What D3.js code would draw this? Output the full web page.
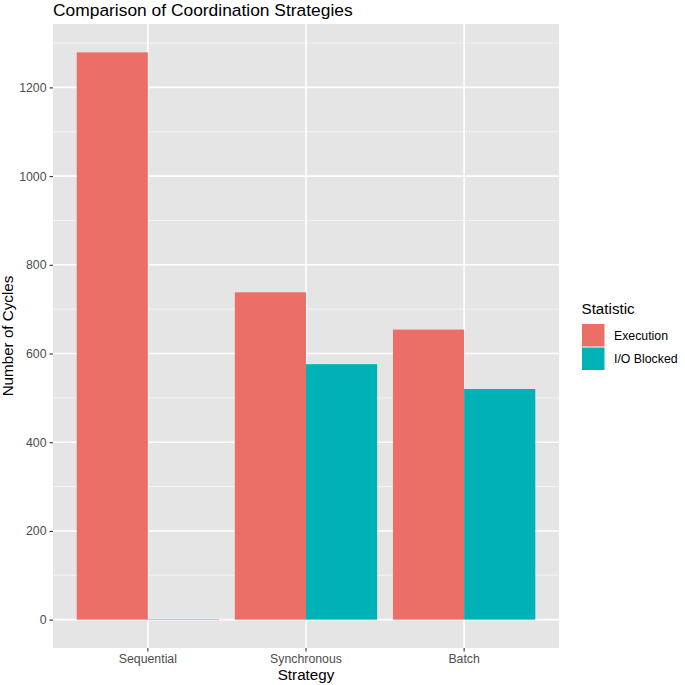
<!DOCTYPE html>
<html>
<head>
<meta charset="utf-8">
<script src="https://cdn.jsdelivr.net/npm/d3@7"></script>
<style>
  body { margin: 0; background: #fff; }
  svg { display: block; }
  text { font-family: "Liberation Sans", Arial, sans-serif; }
</style>
</head>
<body>
<svg id="chart" width="685" height="685"></svg>
<script>
const categories = ["Sequential", "Synchronous", "Batch"];
const seriesNames = ["Execution", "I/O Blocked"];
const executionValues = [1279, 738, 654];
const ioBlockedValues = [1, 576, 520];
const yTicks = [0, 200, 400, 600, 800, 1000, 1200];
const yMinorTicks = [100, 300, 500, 700, 900, 1100, 1300];
const colors = ["#EC6F67", "#00B2B6"];

const svg = d3.select("#chart");
const panel = { left: 53, right: 559, top: 24, bottom: 648 };

const maxV = d3.max(executionValues.concat(ioBlockedValues));
const pad = maxV * 0.05;
const y = d3.scaleLinear().domain([-pad, maxV + pad]).range([panel.bottom, panel.top]);

// discrete x with ggplot-like expansion: positions 1..n, limits [0.4, n+0.6]
const xc = d3.scaleLinear().domain([0.4, categories.length + 0.6]).range([panel.left, panel.right]);
const x = d3.scaleBand().domain(categories)
  .range([xc(0.5), xc(categories.length + 0.5)]).paddingInner(0.1).paddingOuter(0.05);
const xSub = d3.scaleBand().domain(seriesNames).range([0, x.bandwidth()]);

// panel background
svg.append("rect").attr("x", panel.left).attr("y", panel.top)
  .attr("width", panel.right - panel.left).attr("height", panel.bottom - panel.top)
  .attr("fill", "#E5E5E5");

// grid
const g = svg.append("g");
g.selectAll("line.minor").data(yMinorTicks.filter(v => y(v) >= panel.top)).join("line")
  .attr("x1", panel.left).attr("x2", panel.right)
  .attr("y1", d => y(d)).attr("y2", d => y(d))
  .attr("stroke", "#F7F7F7").attr("stroke-width", 0.8);
g.selectAll("line.major").data(yTicks).join("line")
  .attr("x1", panel.left).attr("x2", panel.right)
  .attr("y1", d => y(d)).attr("y2", d => y(d))
  .attr("stroke", "#FFFFFF").attr("stroke-width", 1.6);
g.selectAll("line.vmajor").data(categories).join("line")
  .attr("y1", panel.top).attr("y2", panel.bottom)
  .attr("x1", d => x(d) + x.bandwidth() / 2).attr("x2", d => x(d) + x.bandwidth() / 2)
  .attr("stroke", "#FFFFFF").attr("stroke-width", 1.6);

// bars
const rows = categories.map((c, i) => ({ cat: c, vals: [executionValues[i], ioBlockedValues[i]] }));
const groups = svg.append("g").selectAll("g").data(rows).join("g")
  .attr("transform", d => `translate(${x(d.cat)},0)`);
groups.selectAll("rect").data(d => d.vals.map((v, j) => ({ s: seriesNames[j], v, j }))).join("rect")
  .attr("x", d => xSub(d.s))
  .attr("width", xSub.bandwidth())
  .attr("y", d => y(d.v))
  .attr("height", d => y(0) - y(d.v))
  .attr("fill", d => colors[d.j]);

// y axis
const yAxis = d3.axisLeft(y).tickValues(yTicks).tickFormat(d3.format("d")).tickSize(3.5).tickPadding(3);
const ya = svg.append("g").attr("transform", `translate(${panel.left},0)`).call(yAxis);
ya.select(".domain").remove();
ya.selectAll(".tick line").attr("stroke", "#333333").attr("stroke-width", 1.1);
ya.selectAll(".tick text").attr("fill", "#4D4D4D").style("font-size", "12.3px")
  .style("font-family", "Liberation Sans, Arial, sans-serif");

// x axis
const xAxis = d3.axisBottom(x).tickSize(3.5).tickPadding(3);
const xa = svg.append("g").attr("transform", `translate(0,${panel.bottom})`).call(xAxis);
xa.select(".domain").remove();
xa.selectAll(".tick line").attr("stroke", "#333333").attr("stroke-width", 1.1);
xa.selectAll(".tick text").attr("fill", "#4D4D4D").style("font-size", "12.3px")
  .style("font-family", "Liberation Sans, Arial, sans-serif");

// titles
svg.append("text").attr("x", panel.left).attr("y", 15.5)
  .style("font-size", "17.4px").attr("fill", "#000").text("Comparison of Coordination Strategies");
svg.append("text").attr("x", (panel.left + panel.right) / 2).attr("y", 680)
  .attr("text-anchor", "middle").style("font-size", "15.2px").attr("fill", "#000").text("Strategy");
svg.append("text").attr("transform", `translate(12.5,${(panel.top + panel.bottom) / 2}) rotate(-90)`)
  .attr("text-anchor", "middle").style("font-size", "15.2px").attr("fill", "#000").text("Number of Cycles");

// legend
const lg = svg.append("g");
lg.append("text").attr("x", 581.5).attr("y", 314).style("font-size", "15.2px").attr("fill", "#000").text("Statistic");
seriesNames.forEach((s, i) => {
  lg.append("rect").attr("x", 582).attr("y", 324 + i * 23.5).attr("width", 22.5).attr("height", 22.5)
    .attr("fill", colors[i]);
  lg.append("text").attr("x", 614).attr("y", 339.5 + i * 23.5).style("font-size", "12.3px")
    .attr("fill", "#000").text(s);
});
</script>
</body>
</html>
